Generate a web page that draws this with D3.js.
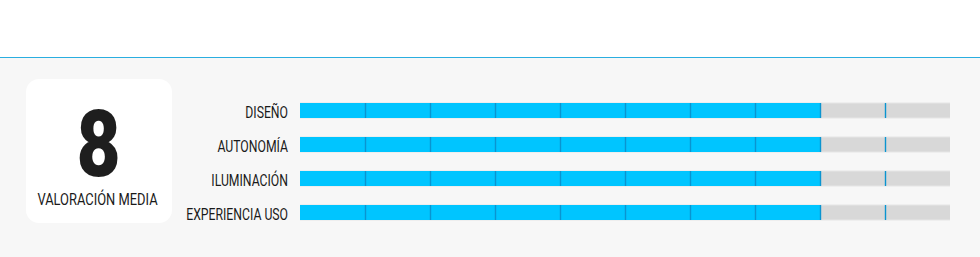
<!DOCTYPE html>
<meta charset="utf-8">
<style>
body { margin: 0; background: #fff; }
svg { display: block; }
.lbl { font-family: Roboto, sans-serif; font-size: 17px; fill: #1a1a1a; }
.big { font-family: Roboto, sans-serif; font-weight: 900; fill: #1e1e1e; }
.ticks path.domain { display: none; }
.ticks line { stroke: #0a94d0; stroke-width: 1.4; }
</style>
<body>
<script src="https://cdn.jsdelivr.net/npm/d3@7"></script>
<script>
// data
var categories = ["DISEÑO", "AUTONOMÍA", "ILUMINACIÓN", "EXPERIENCIA USO"];
var scores = [8, 8, 8, 8];
var overall = 8;
var overallLabel = "VALORACIÓN MEDIA";
var maxScore = 10;

var W = 980, H = 257;

var svg = d3.select("body").append("svg")
    .attr("width", W)
    .attr("height", H);

// panel background + top rule
svg.append("rect").attr("x", 0).attr("y", 57).attr("width", W).attr("height", H - 57).attr("fill", "#f7f7f7");
svg.append("line").attr("x1", 0).attr("x2", W).attr("y1", 57.5).attr("y2", 57.5)
    .attr("stroke", "#2aaee0").attr("stroke-width", 1);

// score card
svg.append("rect")
    .attr("x", 26).attr("y", 79).attr("width", 146).attr("height", 144)
    .attr("rx", 13).attr("fill", "#fff");

svg.append("text")
    .attr("class", "big")
    .attr("transform", "translate(98.5,176) scale(0.82,1)")
    .attr("text-anchor", "middle")
    .attr("font-size", 93)
    .text(overall);

svg.append("text")
    .attr("class", "lbl")
    .attr("transform", "translate(97.5,205) scale(0.76,1)")
    .attr("text-anchor", "middle")
    .attr("font-size", 17)
    .text(overallLabel);

// scales
var x = d3.scaleLinear().domain([0, maxScore]).range([300, 950]);
var y = d3.scaleBand().domain(categories).range([103, 220]).paddingInner(19 / 34).paddingOuter(0);

var rows = svg.selectAll(".row")
    .data(categories)
  .enter().append("g")
    .attr("class", "row")
    .attr("transform", function(d) { return "translate(0," + y(d) + ")"; });

// track
rows.append("rect")
    .attr("x", x(0)).attr("y", -0.5)
    .attr("width", x(maxScore) - x(0))
    .attr("height", y.bandwidth() + 1)
    .attr("fill", "#e6e6e6");
rows.append("rect")
    .attr("x", x(0)).attr("y", 0.5)
    .attr("width", x(maxScore) - x(0))
    .attr("height", y.bandwidth() - 1)
    .attr("fill", "#d8d8d8");

// value bar
rows.append("rect")
    .attr("x", x(0)).attr("y", 0)
    .attr("width", function(d, i) { return x(scores[i]) - x(0); })
    .attr("height", y.bandwidth())
    .attr("fill", "#00c5ff");

// tick marks
rows.append("g")
    .attr("class", "ticks")
    .attr("transform", "translate(0," + y.bandwidth() + ")")
    .each(function() {
      d3.select(this).call(d3.axisTop(x).tickValues(d3.range(1, maxScore)).tickSize(y.bandwidth()).tickFormat(""));
    });

// labels (condensed look)
rows.append("text")
    .attr("class", "lbl")
    .attr("transform", "translate(288," + y.bandwidth() + ") scale(0.72,1)")
    .attr("text-anchor", "end")
    .text(function(d) { return d; });
</script>
</body>
